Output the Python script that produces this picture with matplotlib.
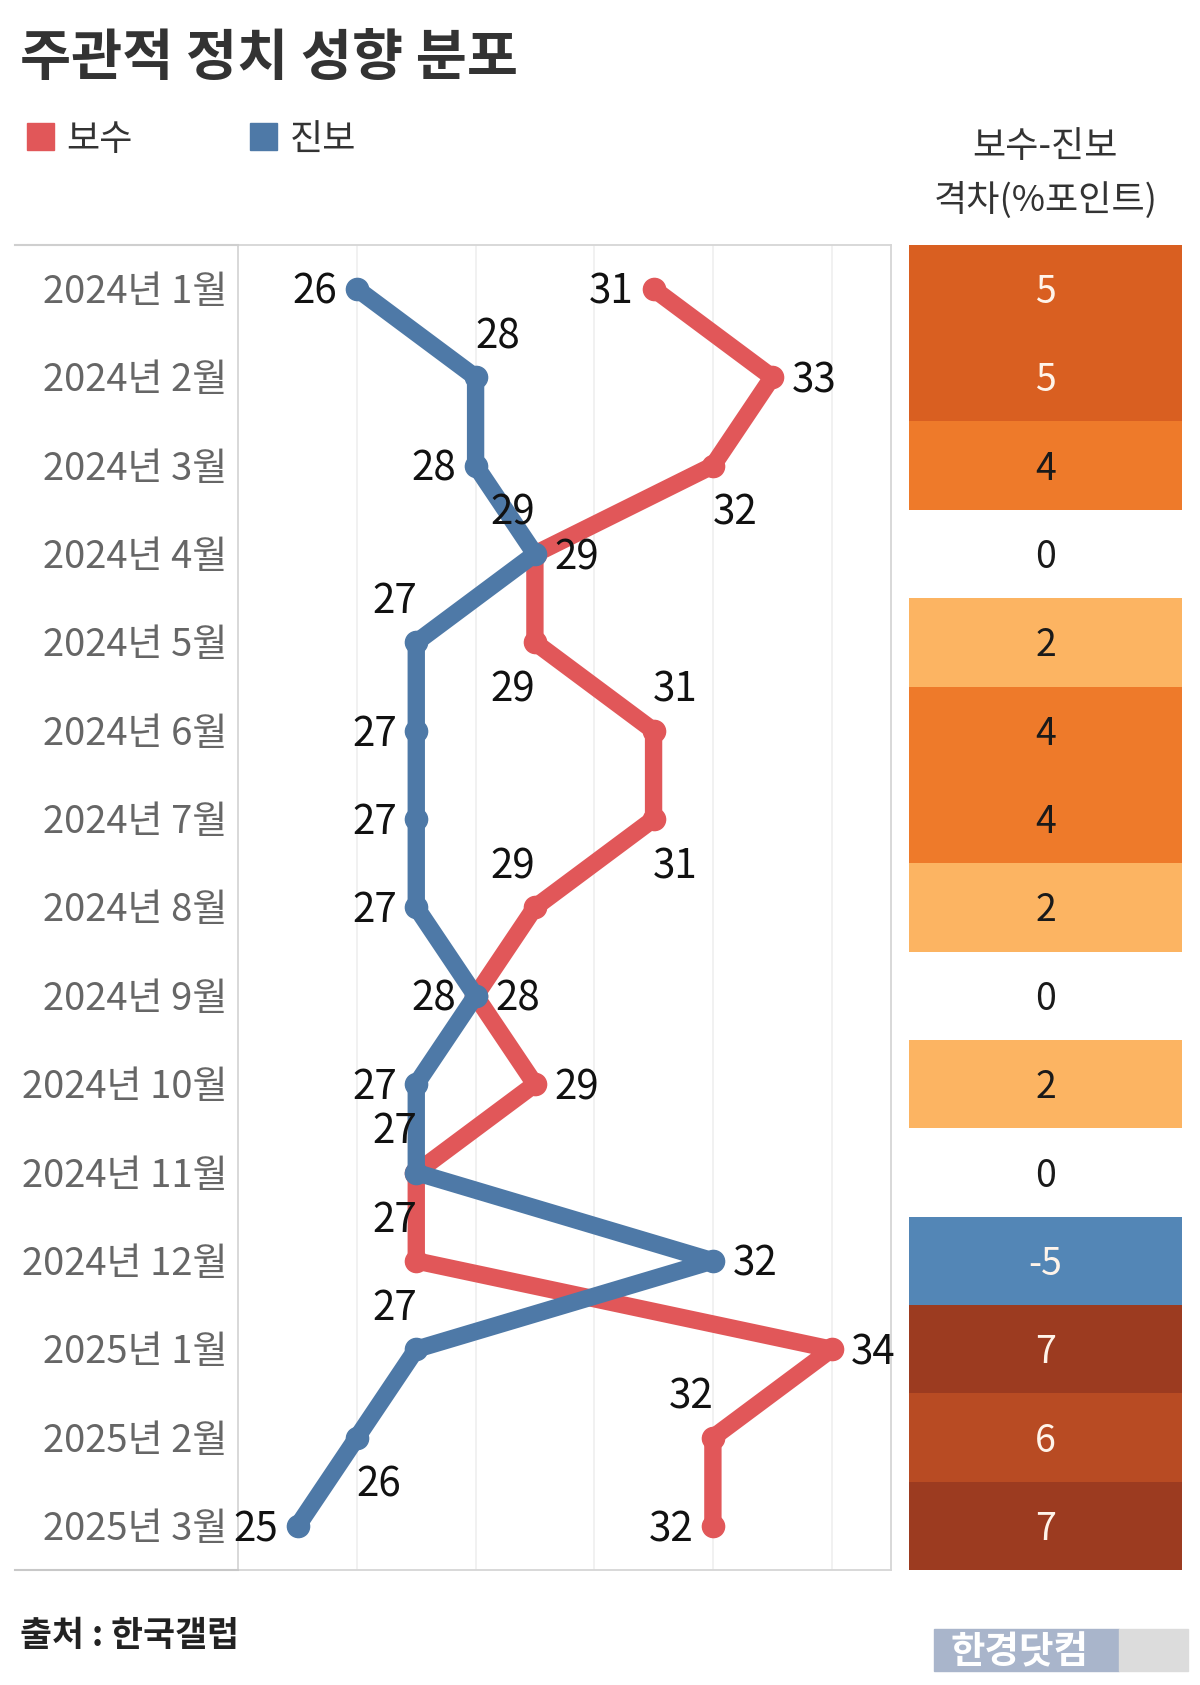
import matplotlib
matplotlib.use("Agg")
import matplotlib.pyplot as plt
from matplotlib.patches import Rectangle
from matplotlib.lines import Line2D
from matplotlib import transforms

plt.rcParams['font.family'] = ['Noto Sans CJK KR', 'DejaVu Sans']

# ---------------- data ----------------
months = ["2024년 1월", "2024년 2월", "2024년 3월", "2024년 4월", "2024년 5월",
          "2024년 6월", "2024년 7월", "2024년 8월", "2024년 9월", "2024년 10월",
          "2024년 11월", "2024년 12월", "2025년 1월", "2025년 2월", "2025년 3월"]
conservative = [31, 33, 32, 29, 29, 31, 31, 29, 28, 29, 27, 27, 34, 32, 32]
progressive = [26, 28, 28, 29, 27, 27, 27, 27, 28, 27, 27, 32, 27, 26, 25]
gap = [5, 5, 4, 0, 2, 4, 4, 2, 0, 2, 0, -5, 7, 6, 7]

title = "주관적 정치 성향 분포"
legend_labels = ["보수", "진보"]
gap_header = ["보수-진보", "격차(%포인트)"]
source = "출처 : 한국갤럽"
logo = "한경닷컴"

# label placement codes (style)
red_pos = ['L', 'R', 'DR', 'R', 'DL', 'UR', 'DR', 'UL', 'R', 'R', None, 'UL', 'R', 'UL', 'L']
blue_pos = ['L', 'UR', 'L', 'UL', 'UL', 'L', 'L', 'L', 'L', 'L', 'UL', 'R', 'UL', 'DR', 'L']

RED = "#E15759"
BLUE = "#4E79A7"
gap_colors = {7: "#9C3B20", 6: "#B84B23", 5: "#D95F21", 4: "#EE7A2A",
              2: "#FCB462", 0: "#FFFFFF", -5: "#5386B6"}
gap_text_white = {7, 6, 5, -5}

W, H = 1118.0, 1570.0  # reference layout units
TY = 0.04  # small baseline correction (rows)


def fx(x):
    return x / W


def fy(y):
    return 1 - y / H


fig = plt.figure(figsize=(12, 16.85), dpi=100)
fig.patch.set_facecolor("white")

# main axes
ax = fig.add_axes([fx(222), fy(1463), fx(830) - fx(222), fy(228) - fy(1463)])
rows = list(range(len(months)))
ax.set_xlim(24, 35)
ax.set_ylim(len(months) - 0.5, -0.5)
ax.set_xticks([26, 28, 30, 32, 34])
ax.set_yticks([])
ax.tick_params(axis='x', length=0, labelbottom=False)
ax.grid(axis='x', color="#EFEFEF", linewidth=1.2)
ax.set_axisbelow(True)
for s in ax.spines.values():
    s.set_color("#D6D6D6")
    s.set_linewidth(1.3)

ax.plot(conservative, rows, color=RED, linewidth=12.5, solid_capstyle='round',
        solid_joinstyle='round', marker='o', markersize=16, zorder=3)
ax.plot(progressive, rows, color=BLUE, linewidth=12.5, solid_capstyle='round',
        solid_joinstyle='round', marker='o', markersize=16, zorder=4)

LBL = 29


def place(xv, yv, code):
    if code is None:
        return
    yv = yv + TY
    if code == 'L':
        ax.text(xv - 0.33, yv, str(xv), ha='right', va='center', fontsize=LBL, color="#111111", zorder=6)
    elif code == 'R':
        ax.text(xv + 0.33, yv, str(xv), ha='left', va='center', fontsize=LBL, color="#111111", zorder=6)
    else:
        dy = -0.5 if code[0] == 'U' else 0.5
        dx = -0.37 if code[1] == 'L' else 0.37
        ax.text(xv + dx, yv + dy, str(xv), ha='center', va='center', fontsize=LBL, color="#111111", zorder=6)


for i in rows:
    place(conservative[i], i, red_pos[i])
    place(progressive[i], i, blue_pos[i])

# row labels
trans = transforms.blended_transform_factory(ax.transAxes, ax.transData)
for i, m in enumerate(months):
    ax.text(-0.016, i + TY, m, transform=trans, ha='right', va='center',
            fontsize=27.5, color="#666666")

# lines for row label area
fig.add_artist(Line2D([fx(14), fx(222)], [fy(228), fy(228)], color="#CFCFCF", linewidth=1.5))
fig.add_artist(Line2D([fx(14), fx(222)], [fy(1463), fy(1463)], color="#C8C8C8", linewidth=1.5))

# heatmap axes
ax2 = fig.add_axes([fx(847), fy(1463), fx(1101) - fx(847), fy(228) - fy(1463)])
ax2.barh(rows, [1] * len(rows), height=1.0, left=0,
         color=[gap_colors[g] for g in gap], linewidth=0)
ax2.set_xlim(0, 1)
ax2.set_ylim(len(months) - 0.5, -0.5)
ax2.axis('off')
for i, g in enumerate(gap):
    ax2.text(0.5, i + TY, str(g), ha='center', va='center', fontsize=27,
             color=("#FFF4EA" if g in gap_text_white else "#1A1A1A"))

# header
fig.text(fx(974), fy(137), gap_header[0], ha='center', va='center', fontsize=26, color="#333333")
fig.text(fx(974), fy(187), gap_header[1], ha='center', va='center', fontsize=26, color="#333333")

# title
fig.text(fx(19), fy(55), title, ha='left', va='center', fontsize=40, fontweight='bold', color="#333333")

# legend
fig.add_artist(Rectangle((fx(25), fy(140)), fx(25), fy(115) - fy(140), color=RED, transform=fig.transFigure))
fig.text(fx(62), fy(130), legend_labels[0], ha='left', va='center', fontsize=26, color="#333333")
fig.add_artist(Rectangle((fx(233), fy(140)), fx(25), fy(115) - fy(140), color=BLUE, transform=fig.transFigure))
fig.text(fx(270), fy(130), legend_labels[1], ha='left', va='center', fontsize=26, color="#333333")

# source
fig.text(fx(19), fy(1524), source, ha='left', va='center', fontsize=25, fontweight='bold', color="#222222")

# logo
fig.add_artist(Rectangle((fx(870), fy(1557)), fx(1043) - fx(870), fy(1518) - fy(1557),
                         color="#A9B5CB", transform=fig.transFigure))
fig.add_artist(Rectangle((fx(1043), fy(1557)), fx(1107) - fx(1043), fy(1518) - fy(1557),
                         color="#DCDCDC", transform=fig.transFigure))
fig.text(fx(950), fy(1539), logo, ha='center', va='center', fontsize=27, fontweight='bold', color="#FFFFFF")

fig.savefig("out.png", dpi=100, facecolor="white")
